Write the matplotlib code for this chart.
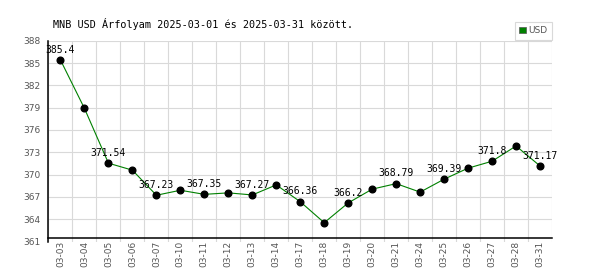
import matplotlib
matplotlib.use('Agg')
import matplotlib.pyplot as plt
from matplotlib.patches import Patch
import numpy as np

title = 'MNB USD Árfolyam 2025-03-01 és 2025-03-31 között.'
dates = ['03-03', '03-04', '03-05', '03-06', '03-07', '03-10', '03-11',
         '03-12', '03-13', '03-14', '03-17', '03-18', '03-19', '03-20',
         '03-21', '03-24', '03-25', '03-26', '03-27', '03-28', '03-31']
rates = [385.4, 378.9, 371.54, 370.6, 367.23, 367.9, 367.35,
         367.55, 367.27, 368.62, 366.36, 363.54, 366.2, 368.05,
         368.79, 367.65, 369.39, 370.87, 371.8, 373.85, 371.17]
yticks = list(range(361, 389, 3))

fig = plt.figure(figsize=(6, 2.7), dpi=100)
ax = fig.add_axes([48.5 / 600, 1 - 241.6 / 270, (552 - 48.5) / 600, (241.6 - 40.7) / 270])
# x axis sits a bit above the 361 level, as in the original
ax.spines['bottom'].set_position(('data', 361.45))

x = np.arange(len(dates))
ax.plot(x, rates, color='#008000', lw=0.8, zorder=3)
ax.plot(x, rates, 'o', color='black', ms=4.8, zorder=4)

# value labels on every other point
for i in range(0, len(rates), 2):
    ax.annotate(f'{rates[i]:g}', (x[i], rates[i]), xytext=(0, 5.2),
                textcoords='offset points', ha='center', va='baseline',
                family='DejaVu Sans Mono', fontsize=7, color='black', zorder=5)

ax.set_xlim(-0.5, len(dates) - 0.5)
ax.set_ylim(361, 388)
ax.set_yticks(yticks)
ax.set_xticks(x)
ax.set_xticklabels(dates, rotation=90, family='DejaVu Sans', fontsize=6.5, color='#555555')
ax.set_xticks(np.arange(-0.5, len(dates)), minor=True)
for lab in ax.get_yticklabels():
    lab.set_family('DejaVu Sans')
    lab.set_fontsize(6.5)
    lab.set_color('#555555')

ax.tick_params(axis='x', which='major', length=0, pad=2)
ax.tick_params(axis='x', which='minor', length=0)
ax.tick_params(axis='y', length=0, pad=6)
ax.grid(axis='y', which='major', color='#d9d9d9', lw=0.8)
ax.grid(axis='x', which='minor', color='#d9d9d9', lw=0.8)
ax.yaxis.get_gridlines()[0].set_visible(False)

for s in ['top', 'right']:
    ax.spines[s].set_visible(False)
ax.spines['left'].set_linewidth(1.1)
ax.spines['bottom'].set_linewidth(1.1)
ax.set_axisbelow(True)

fig.text(53 / 600, 1 - 24 / 270, title, family='DejaVu Sans Mono', fontsize=7.3,
         va='center', ha='left')

leg = fig.legend(handles=[Patch(facecolor='#008000', edgecolor='#555555', lw=0.5, label='USD')],
                 loc='lower right', bbox_to_anchor=(552 / 600, 1 - 40 / 270),
                 fontsize=6.5, frameon=True, fancybox=False, handlelength=0.7,
                 handleheight=0.7, handletextpad=0.3, borderpad=0.5, borderaxespad=0)
leg.get_frame().set_edgecolor('#d0d0d0')
leg.get_frame().set_linewidth(0.8)
for t in leg.get_texts():
    t.set_color('#555555')

fig.savefig('out.png', dpi=100)
